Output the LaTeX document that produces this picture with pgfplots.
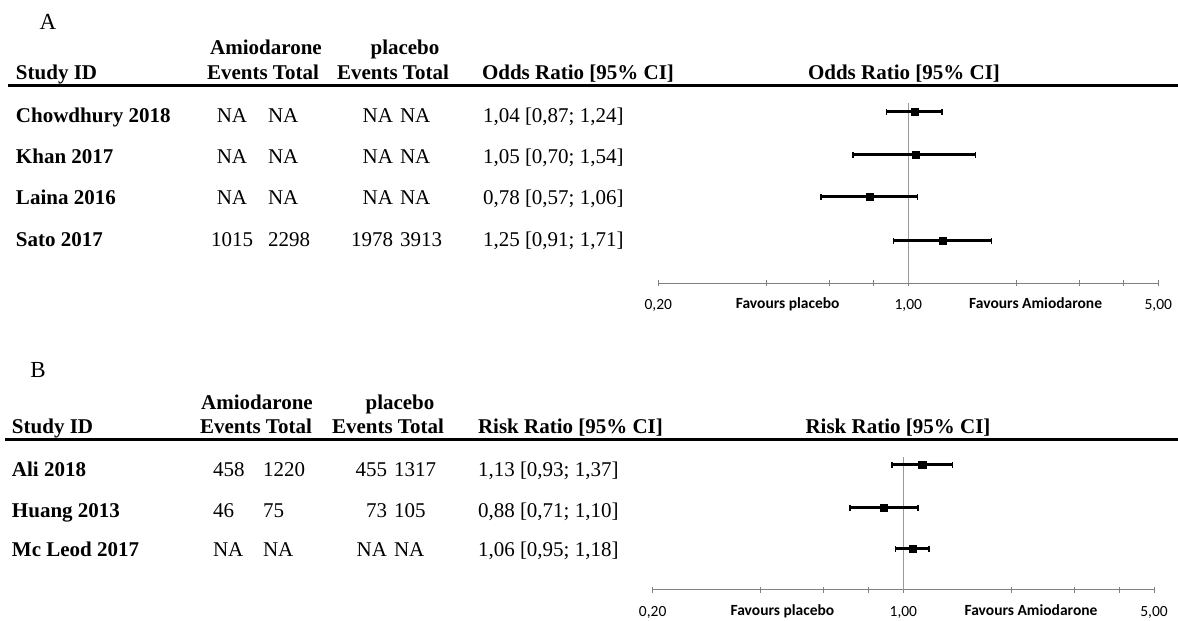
\documentclass[border=0pt]{standalone}
\usepackage{fontspec}
\setmainfont{Liberation Serif}
\newfontfamily\carlito{Carlito}
\usepackage{pgfplots}
\pgfplotsset{compat=1.18}
\pgfplotsset{
  myci/.style={black, line width=3pt, mark=|, mark size=3.2pt, mark options={line width=1.6pt, solid}},
  mypt/.style={only marks, black, mark=square*, mark size=3.7pt},
  myrefl/.style={gray!80, line width=1pt},
}
\begin{document}
\fontsize{21}{24}\selectfont
\begin{tikzpicture}[t/.style={inner sep=0pt, outer sep=0pt}]
\path[use as bounding box] (0pt,0pt) rectangle (1178pt,621pt);
% ================= Panel A =================
\node[t, anchor=base, font=\fontsize{23}{26}\selectfont] at (48pt,591pt) {A};
\node[t, anchor=base, font=\bfseries] at (266pt,566pt) {Amiodarone};
\node[t, anchor=base, font=\bfseries] at (405pt,566pt) {placebo};
\node[t, anchor=base west, font=\bfseries] at (16pt,541pt) {Study ID};
\node[t, anchor=base west, font=\bfseries] at (207pt,541pt) {Events Total};
\node[t, anchor=base west, font=\bfseries] at (337pt,541pt) {Events Total};
\node[t, anchor=base west, font=\bfseries] at (482pt,541pt) {Odds Ratio [95\% CI]};
\node[t, anchor=base, font=\bfseries] at (904pt,541pt) {Odds Ratio [95\% CI]};
\draw[line width=3pt] (8pt,535pt) -- (1178pt,535pt);
% rows
\foreach \ya/\nm/\aa/\ab/\pa/\pb/\cc in {
  498/Chowdhury 2018/NA/NA/NA/NA/{1,04 [0,87; 1,24]},
  457/Khan 2017/NA/NA/NA/NA/{1,05 [0,70; 1,54]},
  416/Laina 2016/NA/NA/NA/NA/{0,78 [0,57; 1,06]},
  374/Sato 2017/1015/2298/1978/3913/{1,25 [0,91; 1,71]}}{
  \node[t, anchor=base west, font=\bfseries] at (16pt,\ya pt) {\nm};
  \node[t, anchor=base] at (232pt,\ya pt) {\aa};
  \node[t, anchor=base west] at (268pt,\ya pt) {\ab};
  \node[t, anchor=base east] at (393pt,\ya pt) {\pa};
  \node[t, anchor=base west] at (400pt,\ya pt) {\pb};
  \node[t, anchor=base west] at (483pt,\ya pt) {\cc};
}
\begin{axis}[
  scale only axis, clip=false,
  xmode=log, xmin=0.2, xmax=5, ymin=0, ymax=180.3,
  axis y line=none, axis x line*=bottom,
  x axis line style={gray, line width=1pt},
  xtick={0.2,0.4,0.6,0.8,1,2,3,4,5},
  xticklabels={0{,}20,,,,1{,}00,,,,5{,}00},
  minor xtick={},
  tick align=center, major tick length=6pt,
  tick style={gray, line width=0.9pt},
  xticklabel style={font=\carlito\fontsize{15.5}{18}\selectfont, anchor=base, yshift=-23.5pt},
  at={(658.3pt,337.7pt)}, anchor=south west,
  width=500pt, height=180.3pt]
  \addplot[myrefl] coordinates {(1,0) (1,180.3)};
  \addplot[myci] coordinates {(0.87,171.3) (1.24,171.3)};
  \addplot[myci] coordinates {(0.70,128.3) (1.54,128.3)};
  \addplot[myci] coordinates {(0.57,86.3) (1.06,86.3)};
  \addplot[myci] coordinates {(0.91,42.3) (1.71,42.3)};
  \addplot[mypt] coordinates {(1.04,171.3) (1.05,128.3) (0.78,86.3) (1.25,42.3)};
  \node[anchor=base, inner sep=0pt, font=\carlito\bfseries\fontsize{15.5}{18}\selectfont] at (axis cs:0.46,0) [yshift=-25.5pt] {Favours placebo};
  \node[anchor=base, inner sep=0pt, font=\carlito\bfseries\fontsize{15.5}{18}\selectfont] at (axis cs:2.27,0) [yshift=-25.5pt] {Favours Amiodarone};
\end{axis}
% ================= Panel B =================
\node[t, anchor=base, font=\fontsize{23}{26}\selectfont] at (38pt,243pt) {B};
\node[t, anchor=base, font=\bfseries] at (257pt,211pt) {Amiodarone};
\node[t, anchor=base, font=\bfseries] at (400pt,211pt) {placebo};
\node[t, anchor=base west, font=\bfseries] at (12pt,187pt) {Study ID};
\node[t, anchor=base west, font=\bfseries] at (200pt,187pt) {Events Total};
\node[t, anchor=base west, font=\bfseries] at (332pt,187pt) {Events Total};
\node[t, anchor=base west, font=\bfseries] at (478pt,187pt) {Risk Ratio [95\% CI]};
\node[t, anchor=base, font=\bfseries] at (898pt,187pt) {Risk Ratio [95\% CI]};
\draw[line width=3pt] (5pt,181pt) -- (1178pt,181pt);
\foreach \ya/\nm/\aa/\ab/\pa/\pb/\cc in {
  144/Ali 2018/458/1220/455/1317/{1,13 [0,93; 1,37]},
  103/Huang 2013/46/75/73/105/{0,88 [0,71; 1,10]},
  64/Mc Leod 2017/NA/NA/NA/NA/{1,06 [0,95; 1,18]}}{
  \node[t, anchor=base west, font=\bfseries] at (12pt,\ya pt) {\nm};
  \node[t, anchor=base west] at (213pt,\ya pt) {\aa};
  \node[t, anchor=base west] at (263pt,\ya pt) {\ab};
  \node[t, anchor=base east] at (387pt,\ya pt) {\pa};
  \node[t, anchor=base west] at (394pt,\ya pt) {\pb};
  \node[t, anchor=base west] at (478pt,\ya pt) {\cc};
}
\begin{axis}[
  scale only axis, clip=false,
  xmode=log, xmin=0.2, xmax=5, ymin=0, ymax=133,
  axis y line=none, axis x line*=bottom,
  x axis line style={gray, line width=1pt},
  xtick={0.2,0.4,0.6,0.8,1,2,3,4,5},
  xticklabels={0{,}20,,,,1{,}00,,,,5{,}00},
  minor xtick={},
  tick align=center, major tick length=6pt,
  tick style={gray, line width=0.9pt},
  xticklabel style={font=\carlito\fontsize{15.5}{18}\selectfont, anchor=base, yshift=-24pt},
  at={(652.7pt,31pt)}, anchor=south west,
  width=501.3pt, height=133pt]
  \addplot[myrefl] coordinates {(1,0) (1,133)};
  \addplot[myci] coordinates {(0.93,125) (1.37,125)};
  \addplot[myci] coordinates {(0.71,82) (1.10,82)};
  \addplot[myci] coordinates {(0.95,41) (1.18,41)};
  \addplot[mypt] coordinates {(1.13,125) (0.88,82) (1.06,41)};
  \node[anchor=base, inner sep=0pt, font=\carlito\bfseries\fontsize{15.5}{18}\selectfont] at (axis cs:0.46,0) [yshift=-26pt] {Favours placebo};
  \node[anchor=base, inner sep=0pt, font=\carlito\bfseries\fontsize{15.5}{18}\selectfont] at (axis cs:2.27,0) [yshift=-26pt] {Favours Amiodarone};
\end{axis}
\end{tikzpicture}
\end{document}
